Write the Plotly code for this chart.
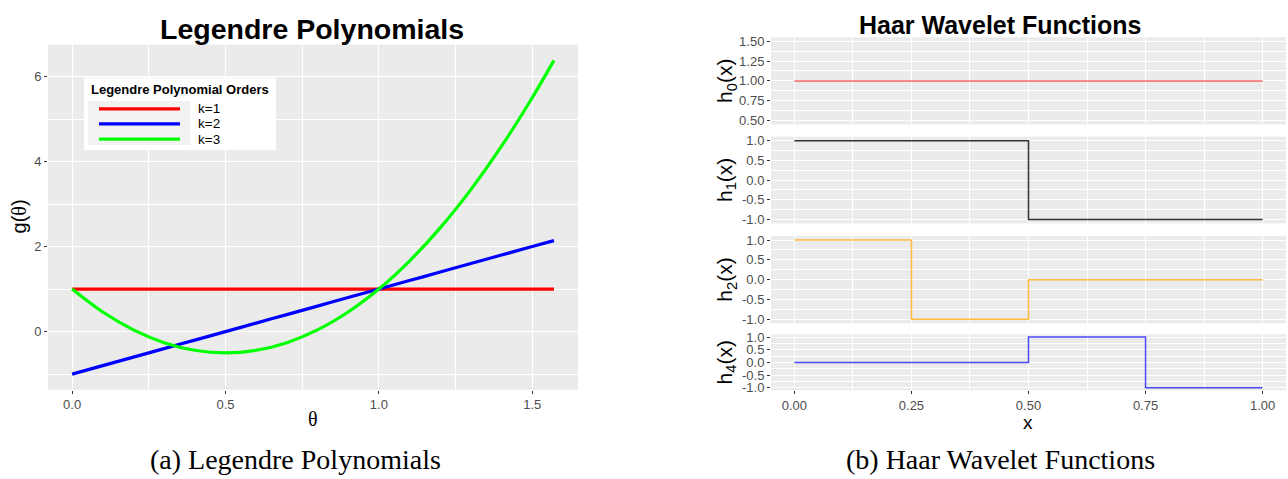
import plotly.graph_objects as go

W, H = 1288, 479

# ---------------- data: Legendre polynomials (left) ----------------
theta = [0.0, 0.1, 0.2, 0.3, 0.4, 0.5, 0.6, 0.7, 0.8, 0.9, 1.0,
         1.1, 1.2, 1.3, 1.4, 1.5, 1.5708]
g_k1 = [1.0, 1.0, 1.0, 1.0, 1.0, 1.0, 1.0, 1.0, 1.0, 1.0, 1.0,
        1.0, 1.0, 1.0, 1.0, 1.0, 1.0]
g_k2 = [-1.0, -0.8, -0.6, -0.4, -0.2, 0.0, 0.2, 0.4, 0.6, 0.8, 1.0,
        1.2, 1.4, 1.6, 1.8, 2.0, 2.14]
g_k3 = [1.0, 0.46, 0.04, -0.26, -0.44, -0.5, -0.44, -0.26, 0.04, 0.46, 1.0,
        1.66, 2.44, 3.34, 4.36, 5.5, 6.38]
legendre_names = ["k=1", "k=2", "k=3"]
legendre_colors = ["#FF0000", "#0000FF", "#00FF00"]
left_xticks = [0.0, 0.5, 1.0, 1.5]
left_xticklabels = ["0.0", "0.5", "1.0", "1.5"]
left_yticks = [0, 2, 4, 6]
left_yticklabels = ["0", "2", "4", "6"]

# ---------------- data: Haar wavelets (right) ----------------
haar_x0 = [0.0, 1.0]
haar_h0 = [1.0, 1.0]
haar_x1 = [0.0, 0.5, 1.0]
haar_h1 = [1.0, -1.0, -1.0]
haar_x2 = [0.0, 0.25, 0.5, 1.0]
haar_h2 = [1.0, -1.0, 0.0, 0.0]
haar_x4 = [0.0, 0.5, 0.75, 1.0]
haar_h4 = [0.0, 1.0, -1.0, -1.0]
haar_labels = ["h<sub>0</sub>(x)", "h<sub>1</sub>(x)", "h<sub>2</sub>(x)", "h<sub>4</sub>(x)"]
haar_colors = ["rgba(255,0,0,0.6)", "rgba(0,0,0,0.8)", "rgba(255,165,0,0.75)", "rgba(0,0,255,0.7)"]
haar_xticks = [0.0, 0.25, 0.5, 0.75, 1.0]
haar_xticklabels = ["0.00", "0.25", "0.50", "0.75", "1.00"]
h0_yticks = [0.5, 0.75, 1.0, 1.25, 1.5]
h0_yticklabels = ["0.50", "0.75", "1.00", "1.25", "1.50"]
h_yticks = [-1.0, -0.5, 0.0, 0.5, 1.0]
h_yticklabels = ["-1.0", "-0.5", "0.0", "0.5", "1.0"]


def px(x):
    return x / W


def py(y):
    return 1 - y / H


SANS = "Liberation Sans, Arial, sans-serif"
SERIF = "Liberation Serif, Times New Roman, serif"
TICKFONT = dict(family=SANS, size=13, color="#4D4D4D")


def axis(domain, rng, tickvals, ticktext, minor, showlabels=True, anchor=None, ticks=True):
    d = dict(
        domain=domain, range=rng, tickmode="array", tickvals=tickvals,
        ticktext=ticktext, showticklabels=showlabels, tickfont=TICKFONT,
        ticks="outside" if ticks else "", ticklen=3, tickwidth=1, tickcolor="#333333",
        showgrid=True, gridcolor="#FFFFFF", gridwidth=1.1, zeroline=False,
        showline=False, fixedrange=True,
        minor=dict(tickvals=minor, showgrid=True, gridcolor="#FFFFFF", gridwidth=0.5, ticks=""),
    )
    if anchor:
        d["anchor"] = anchor
    return d


fig = go.Figure()

# left traces
for ys, name, col in zip([g_k1, g_k2, g_k3], legendre_names, legendre_colors):
    fig.add_trace(go.Scatter(x=theta, y=ys, mode="lines", name=name,
                             line=dict(color=col, width=3.2, shape="spline"),
                             xaxis="x", yaxis="y", showlegend=False))

# right traces
haar_xs = [haar_x0, haar_x1, haar_x2, haar_x4]
haar_ys = [haar_h0, haar_h1, haar_h2, haar_h4]
for i, (xs, ys, col) in enumerate(zip(haar_xs, haar_ys, haar_colors)):
    n = i + 2
    fig.add_trace(go.Scatter(x=xs, y=ys, mode="lines",
                             line=dict(color=col, width=1.5, shape="hv"),
                             xaxis=f"x{n}", yaxis=f"y{n}", showlegend=False))

layout = dict(
    width=W, height=H, margin=dict(l=0, r=0, t=0, b=0),
    paper_bgcolor="#FFFFFF", plot_bgcolor="#EBEBEB",
    showlegend=False,
)

# left axes
layout["xaxis"] = axis([px(48), px(578)], [-0.0785, 1.6493], left_xticks, left_xticklabels,
                       [0.25, 0.75, 1.25], anchor="y")
layout["yaxis"] = axis([py(393), py(40.5)], [-1.369, 6.749], left_yticks, left_yticklabels,
                       [-1, 1, 3, 5], anchor="x")

# right panels (pixel top, bottom)
panels = [(33, 122), (134.5, 223), (236, 325), (336.5, 393.5)]
yranges = [[0.45, 1.55], [-1.1, 1.1], [-1.1, 1.1], [-1.1, 1.1]]
for i, ((top, bot), yr) in enumerate(zip(panels, yranges)):
    n = i + 2
    last = i == 3
    layout[f"xaxis{n}"] = axis([px(771), px(1286)], [-0.05, 1.05], haar_xticks, haar_xticklabels,
                               [0.125, 0.375, 0.625, 0.875], showlabels=last,
                               anchor=f"y{n}", ticks=last)
    if i == 0:
        yt, ytl, ym = h0_yticks, h0_yticklabels, [0.625, 0.875, 1.125, 1.375]
    else:
        yt, ytl, ym = h_yticks, h_yticklabels, [-0.75, -0.25, 0.25, 0.75]
    layout[f"yaxis{n}"] = axis([py(bot), py(top)], yr, yt, ytl, ym, anchor=f"x{n}")

fig.update_layout(**layout)

ann = []


def text(x, y, t, size, family=SANS, color="#000000", angle=0, xanchor="center", bold=False):
    if bold:
        t = f"<b>{t}</b>"
    ann.append(dict(x=px(x), y=py(y), xref="paper", yref="paper", text=t, showarrow=False,
                    font=dict(family=family, size=size, color=color), textangle=angle,
                    xanchor=xanchor, yanchor="middle"))


# titles
text(312, 25, "Legendre Polynomials", 28.5, bold=True)
text(1000, 20, "Haar Wavelet Functions", 25, bold=True)
# axis titles left
text(19, 216, "g(<span style='font-family:Liberation Serif'>θ</span>)", 20, angle=-90)
text(313, 423, "θ", 20, family=SERIF)
# axis titles right
for (top, bot), lab in zip(panels, haar_labels):
    text(726, (top + bot) / 2, lab, 21, angle=-90)
text(1028, 426, "x", 19)
# captions
text(295, 464, "(a) Legendre Polynomials", 28, family=SERIF)
text(1000, 464, "(b) Haar Wavelet Functions", 28, family=SERIF)

# manual legend (box, key background, keys, labels)
shapes = [
    dict(type="rect", xref="paper", yref="paper", x0=px(84), x1=px(276), y0=py(148), y1=py(74),
         fillcolor="#FFFFFF", line=dict(width=0), layer="above"),
    dict(type="rect", xref="paper", yref="paper", x0=px(88), x1=px(190), y0=py(143), y1=py(98),
         fillcolor="#F2F2F2", line=dict(width=0), layer="above"),
]
key_y = [106, 121.5, 137]
for ky, col, name in zip(key_y, legendre_colors, legendre_names):
    shapes.append(dict(type="line", xref="paper", yref="paper", x0=px(99), x1=px(180),
                       y0=py(ky), y1=py(ky), line=dict(color=col, width=3.2), layer="above"))
    text(196, ky, name, 13.5, xanchor="left")
text(89, 86, "Legendre Polynomial Orders", 13, xanchor="left", bold=True)

fig.update_layout(shapes=shapes, annotations=ann)

fig.write_html("out.html")
